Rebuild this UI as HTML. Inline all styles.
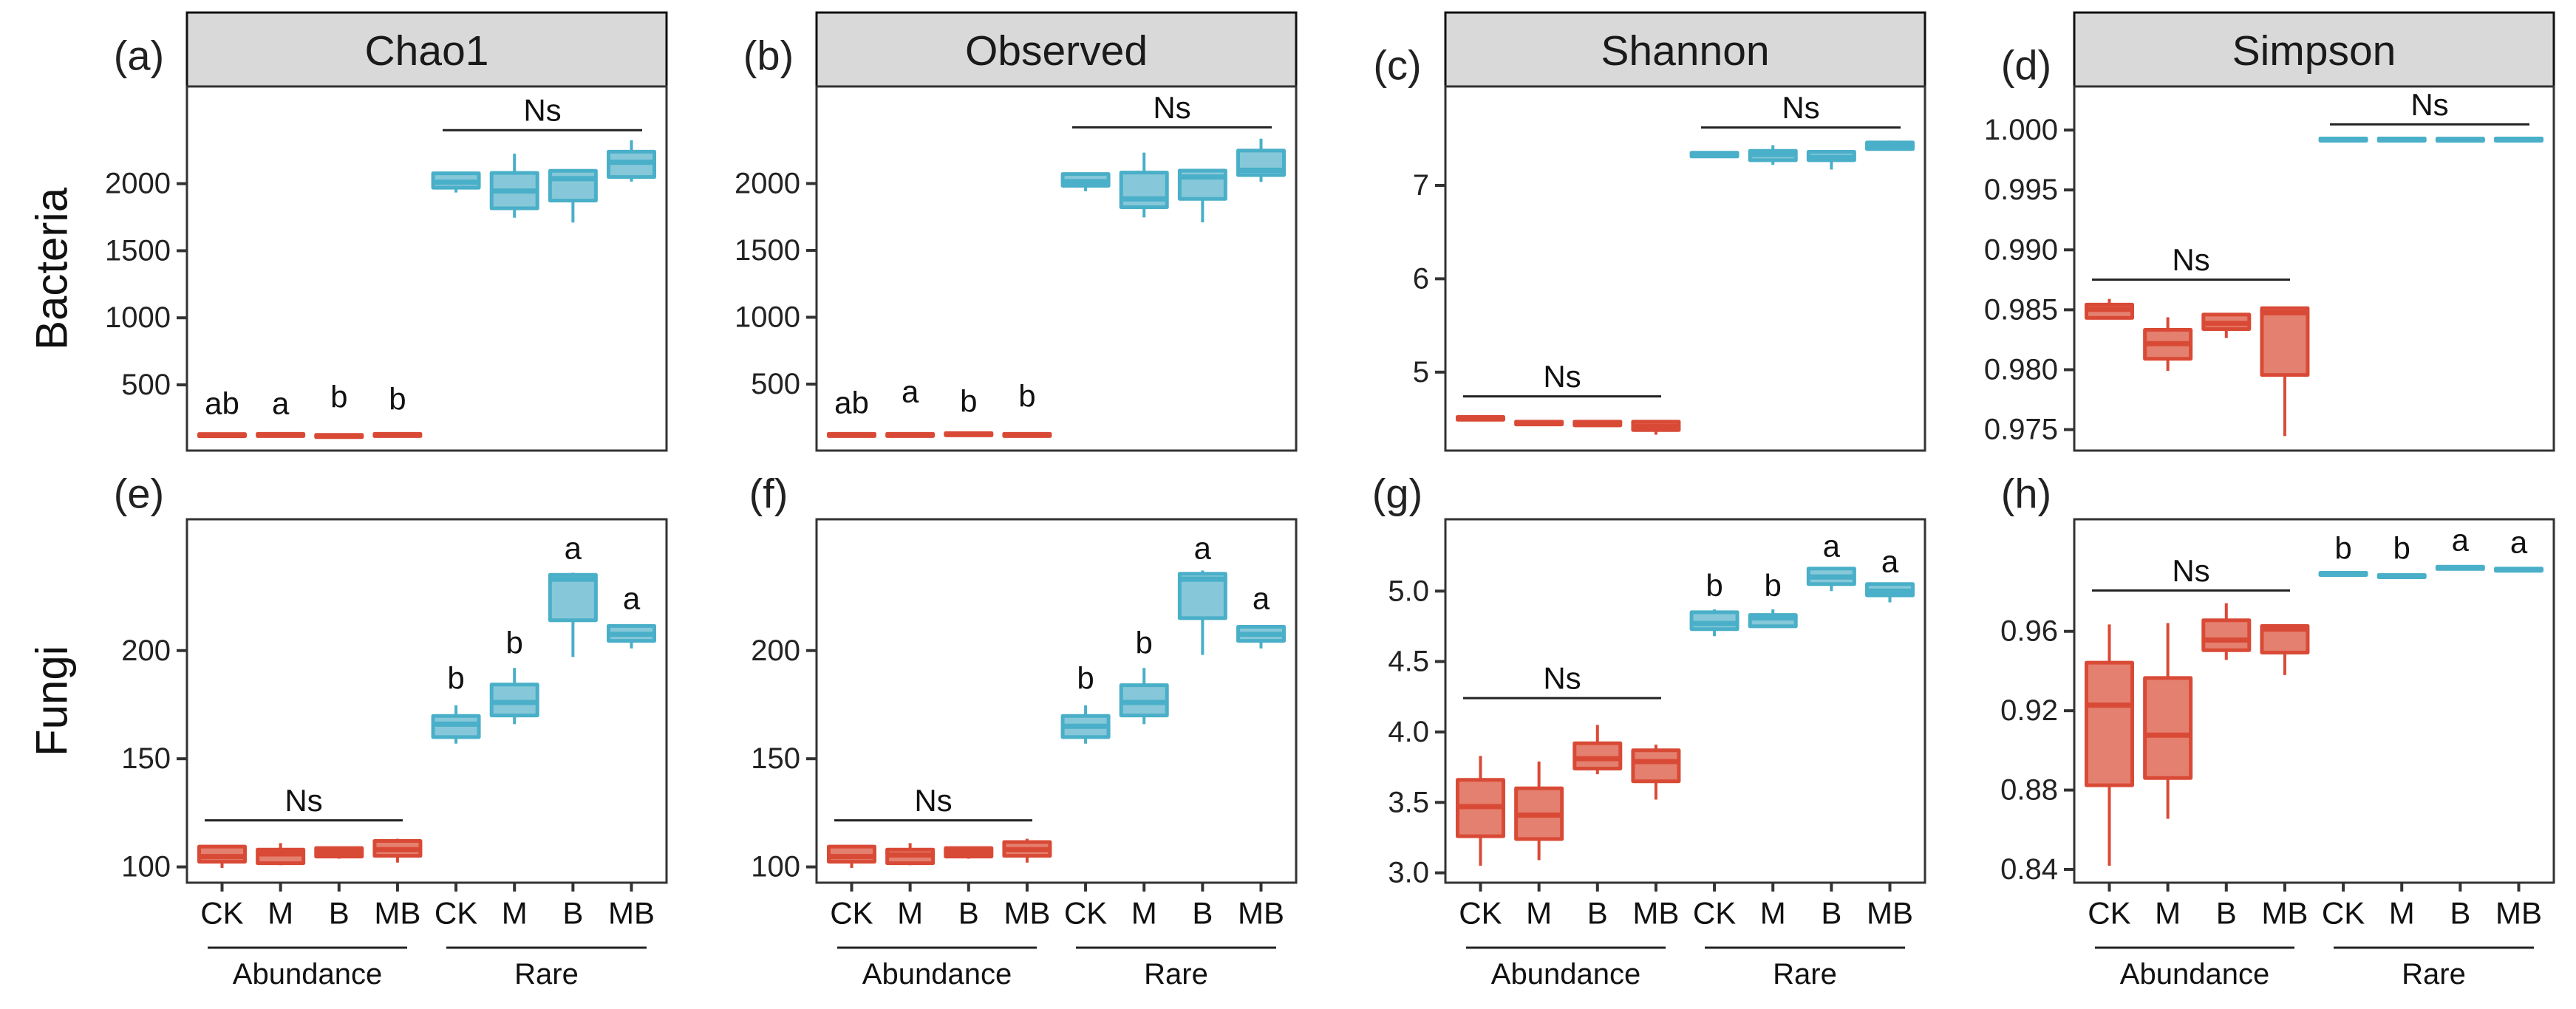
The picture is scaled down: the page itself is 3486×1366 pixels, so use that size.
<!DOCTYPE html>
<html><head><meta charset="utf-8">
<style>
html,body{margin:0;padding:0;background:#fff;}
svg{display:block;font-family:"Liberation Sans",Arial,sans-serif;}
</style></head>
<body>
<svg id="fig" width="3486" height="1366" viewBox="0 0 3486 1366" xmlns="http://www.w3.org/2000/svg">
<rect x="0" y="0" width="3486" height="1366" fill="#fff"/>
<text x="0" y="0" transform="translate(70,364) rotate(-90)" text-anchor="middle" dominant-baseline="central" font-size="60" fill="#111">Bacteria</text>
<text x="0" y="0" transform="translate(70,949) rotate(-90)" text-anchor="middle" dominant-baseline="central" font-size="60" fill="#111">Fungi</text>
</svg>
<script>
const categories = ["CK","M","B","MB","CK","M","B","MB"];
const groups = ["Abundance","Rare"];

// (a) Chao1 bacteria
const chaoLo  = [105,108,100,108, 1934,1746,1710,2015];
const chaoQ1  = [118,120,112,120, 1970,1816,1874,2050];
const chaoMed = [125,126,118,126, 2011,1945,2037,2160];
const chaoQ3  = [132,133,125,133, 2077,2080,2096,2238];
const chaoHi  = [140,140,132,140, 2090,2224,2096,2323];
const chaoLetters = ["ab","a","b","b","","","",""];
const chaoLetterY = [362,362,412,395, 0,0,0,0];
const chaoTicks = [500,1000,1500,2000];

// (b) Observed bacteria
const obsLo  = [100,100,105,100, 1942,1746,1710,2012];
const obsQ1  = [113,113,118,113, 1983,1823,1885,2063];
const obsMed = [120,120,125,120, 2014,1885,2049,2099];
const obsQ3  = [127,127,132,127, 2071,2082,2096,2246];
const obsHi  = [135,135,140,135, 2082,2231,2100,2335];
const obsLetters = ["ab","a","b","b","","","",""];
const obsLetterY = [362,445,373,412, 0,0,0,0];
const obsTicks = [500,1000,1500,2000];

// (c) Shannon bacteria
const shaLo  = [4.49,4.44,4.42,4.33, 7.31,7.22,7.17,7.38];
const shaQ1  = [4.49,4.44,4.43,4.38, 7.31,7.27,7.27,7.39];
const shaMed = [4.50,4.45,4.44,4.42, 7.33,7.33,7.30,7.43];
const shaQ3  = [4.52,4.47,4.47,4.47, 7.35,7.37,7.36,7.46];
const shaHi  = [4.52,4.47,4.47,4.47, 7.35,7.43,7.36,7.48];
const shaTicks = [5,6,7];

// (d) Simpson bacteria
const simLo  = [0.98432,0.97990,0.98264,0.97446, 0.99912,0.99912,0.99912,0.99912];
const simQ1  = [0.98432,0.98091,0.98339,0.97956, 0.99915,0.99915,0.99914,0.99915];
const simMed = [0.98504,0.98217,0.98386,0.98475, 0.99921,0.99921,0.99920,0.99921];
const simQ3  = [0.98543,0.98333,0.98460,0.98513, 0.99926,0.99926,0.99925,0.99926];
const simHi  = [0.98591,0.98438,0.98460,0.98520, 0.99928,0.99928,0.99927,0.99928];
const simTicks = [0.975,0.980,0.985,0.990,0.995,1.000];

// (e) Chao1 fungi
const fchaoLo  = [99.5,100.8,103.8,102, 157,166,197,201];
const fchaoQ1  = [102.4,101.7,104.8,105.1, 160,170,214,204.5];
const fchaoMed = [104.8,106,106.7,108, 166,176,233,207.5];
const fchaoQ3  = [109.4,108,108.7,112, 169.8,184.3,235,211.4];
const fchaoHi  = [110,111,109,113, 174.7,192,236,211.4];
const fchaoLetters = ["","","","", "b","b","a","a"];
const fchaoLetterY = [0,0,0,0, 187.3,203.7,247.4,224.2];
const fchaoTicks = [100,150,200];

// (f) Observed fungi
const fobsLo  = [99.5,100.8,103.8,102, 157,166,198,201];
const fobsQ1  = [102.4,101.7,104.8,105.1, 160,170,215,204.5];
const fobsMed = [104.8,105.5,106.7,108, 165,176,233,207.5];
const fobsQ3  = [109.4,108,108.7,111.5, 169.8,184,235.5,211];
const fobsHi  = [110,111,109,113, 174.7,192,237,211];
const fobsLetters = ["","","","", "b","b","a","a"];
const fobsLetterY = [0,0,0,0, 187.3,203.7,247.4,224.2];
const fobsTicks = [100,150,200];

// (g) Shannon fungi
const fshaLo  = [3.05,3.09,3.70,3.52, 4.68,4.75,5.00,4.92];
const fshaQ1  = [3.26,3.24,3.74,3.65, 4.73,4.75,5.05,4.97];
const fshaMed = [3.47,3.41,3.81,3.79, 4.77,4.81,5.10,5.00];
const fshaQ3  = [3.66,3.60,3.92,3.87, 4.85,4.83,5.16,5.05];
const fshaHi  = [3.83,3.79,4.05,3.91, 4.87,4.87,5.16,5.05];
const fshaLetters = ["","","","", "b","b","a","a"];
const fshaLetterY = [0,0,0,0, 5.04,5.04,5.32,5.21];
const fshaTicks = [3.0,3.5,4.0,4.5,5.0];

// (h) Simpson fungi
const fsimLo  = [0.8418,0.8655,0.9456,0.9380, 0.9884,0.9873,0.9915,0.9906];
const fsimQ1  = [0.8824,0.8861,0.9505,0.9493, 0.9886,0.9875,0.9917,0.9908];
const fsimMed = [0.9228,0.9077,0.9556,0.9611, 0.9890,0.9879,0.9920,0.9911];
const fsimQ3  = [0.9442,0.9365,0.9656,0.9627, 0.9893,0.9882,0.9923,0.9914];
const fsimHi  = [0.9635,0.9642,0.9742,0.9627, 0.9895,0.9884,0.9925,0.9916];
const fsimLetters = ["","","","", "b","b","a","a"];
const fsimLetterY = [0,0,0,0, 1.0020,1.0020,1.0060,1.0049];
const fsimTicks = [0.84,0.88,0.92,0.96];

const NS = "http://www.w3.org/2000/svg";
const svg = document.getElementById("fig");
const RED_D="#D94A36", RED_L="#E4806F", BLU_D="#4AAFC8", BLU_L="#86C8D9";

function mk(tag, attrs, parent){
  const e=document.createElementNS(NS,tag);
  for(const k in attrs) e.setAttribute(k,attrs[k]);
  (parent||svg).appendChild(e);
  return e;
}

const panels = [
 {id:"a",title:"Chao1",left:253,row:0,dom:[10,2725],lo:chaoLo,q1:chaoQ1,med:chaoMed,q3:chaoQ3,hi:chaoHi,ticks:chaoTicks,dec:0,letters:chaoLetters,letY:chaoLetterY,nsA:null,nsR:2399},
 {id:"b",title:"Observed",left:1105,row:0,dom:[3,2726],lo:obsLo,q1:obsQ1,med:obsMed,q3:obsQ3,hi:obsHi,ticks:obsTicks,dec:0,letters:obsLetters,letY:obsLetterY,nsA:null,nsR:2420},
 {id:"c",title:"Shannon",left:1956,row:0,dom:[4.16,8.06],lo:shaLo,q1:shaQ1,med:shaMed,q3:shaQ3,hi:shaHi,ticks:shaTicks,dec:0,letters:null,letY:null,nsA:4.74,nsR:7.62},
 {id:"d",title:"Simpson",left:2807,row:0,dom:[0.97325,1.00364],lo:simLo,q1:simQ1,med:simMed,q3:simQ3,hi:simHi,ticks:simTicks,dec:3,letters:null,letY:null,nsA:0.98751,nsR:1.00047},
 {id:"e",left:253,row:1,dom:[92.7,260.7],lo:fchaoLo,q1:fchaoQ1,med:fchaoMed,q3:fchaoQ3,hi:fchaoHi,ticks:fchaoTicks,dec:0,letters:fchaoLetters,letY:fchaoLetterY,nsA:121.5,nsR:null},
 {id:"f",left:1105,row:1,dom:[92.7,260.7],lo:fobsLo,q1:fobsQ1,med:fobsMed,q3:fobsQ3,hi:fobsHi,ticks:fobsTicks,dec:0,letters:fobsLetters,letY:fobsLetterY,nsA:121.5,nsR:null},
 {id:"g",left:1956,row:1,dom:[2.93,5.51],lo:fshaLo,q1:fshaQ1,med:fshaMed,q3:fshaQ3,hi:fshaHi,ticks:fshaTicks,dec:1,letters:fshaLetters,letY:fshaLetterY,nsA:4.24,nsR:null},
 {id:"h",left:2807,row:1,dom:[0.8333,1.0165],lo:fsimLo,q1:fsimQ1,med:fsimMed,q3:fsimQ3,hi:fsimHi,ticks:fsimTicks,dec:2,letters:fsimLetters,letY:fsimLetterY,nsA:0.9806,nsR:null}
];

const W=649;
panels.forEach(p=>{
  const top = p.row===0?117:703, bot = p.row===0?610:1195;
  const L=p.left;
  const y = v => bot - (v-p.dom[0])/(p.dom[1]-p.dom[0])*(bot-top);
  const x = i => L + (i+0.6)*(W/8.2);
  const g = mk("g",{});
  
  

  // panel tag
  const tag = mk("text",{x:L-65,y:p.row===0?(p.id==="a"||p.id==="b"?75:88):668,"text-anchor":"middle","dominant-baseline":"central","font-size":56,fill:"#222"},g);
  tag.textContent="("+p.id+")";
  
  

  if(p.row===0){
    const hd = mk("rect",{x:L,y:17,width:W,height:100,fill:"#D9D9D9",stroke:"#111","stroke-width":3},g);
    
    
    const ht = mk("text",{x:L+W/2,y:69,"text-anchor":"middle","dominant-baseline":"central","font-size":57,fill:"#1a1a1a"},g);
    ht.textContent=p.title;
    
    
  }
  const fr = mk("rect",{x:L,y:top,width:W,height:bot-top,fill:"none",stroke:"#333","stroke-width":3},g);
  
  

  // y ticks
  p.ticks.forEach(t=>{
    const ty=y(t);
    const tl = mk("line",{x1:L-14,x2:L,y1:ty,y2:ty,stroke:"#333","stroke-width":4},g);
    
    
    const tt = mk("text",{x:L-22,y:ty,"text-anchor":"end","dominant-baseline":"central","font-size":40,fill:"#222"},g);
    tt.textContent = t.toFixed(p.dec);
    
    
  });

  // boxes
  for(let i=0;i<8;i++){
    const cx=x(i), dark=i<4?RED_D:BLU_D, light=i<4?RED_L:BLU_L;
    const bw=62;
    const wh = mk("line",{x1:cx,x2:cx,y1:y(p.hi[i]),y2:y(p.lo[i]),stroke:dark,"stroke-width":4},g);
    
    
    let yt=y(p.q3[i]), yb=y(p.q1[i]);
    if(yb-yt<3){const m=(yt+yb)/2; yt=m-1.5; yb=m+1.5;}
    const bx = mk("rect",{x:cx-bw/2,y:yt,width:bw,height:yb-yt,fill:light,stroke:dark,"stroke-width":5,"stroke-linejoin":"round"},g);
    
    
    const md = mk("line",{x1:cx-bw/2,x2:cx+bw/2,y1:y(p.med[i]),y2:y(p.med[i]),stroke:dark,"stroke-width":7},g);
    
    
    if(p.letters && p.letters[i]){
      const lt = mk("text",{x:cx,y:y(p.letY[i]),"text-anchor":"middle","dominant-baseline":"central","font-size":42,fill:"#111"},g);
      lt.textContent=p.letters[i];
      
      
    }
  }
  // Ns brackets
  [[p.nsA,24,292],[p.nsR,346,616]].forEach(([v,a,b])=>{
    if(v===null) return;
    const ly=y(v);
    const nl = mk("line",{x1:L+a,x2:L+b,y1:ly,y2:ly,stroke:"#222","stroke-width":3},g);
    
    
    const nt = mk("text",{x:L+(a+b)/2,y:ly-27,"text-anchor":"middle","dominant-baseline":"central","font-size":42,fill:"#111"},g);
    nt.textContent="Ns";
    
    
  });

  if(p.row===1){
    for(let i=0;i<8;i++){
      const xt = mk("line",{x1:x(i),x2:x(i),y1:bot,y2:bot+12,stroke:"#333","stroke-width":4},g);
      
      
      const xl = mk("text",{x:x(i),y:1236,"text-anchor":"middle","dominant-baseline":"central","font-size":42,fill:"#111"},g);
      xl.textContent=categories[i];
      
      
    }
    [[28,298,0],[351,622,1]].forEach(([a,b,k])=>{
      const ul = mk("line",{x1:L+a,x2:L+b,y1:1283,y2:1283,stroke:"#222","stroke-width":3},g);
      
      
      const gl = mk("text",{x:L+(a+b)/2,y:1319,"text-anchor":"middle","dominant-baseline":"central","font-size":40,fill:"#111"},g);
      gl.textContent=groups[k];
      
      
    });
  }
});
</script>
</body></html>
